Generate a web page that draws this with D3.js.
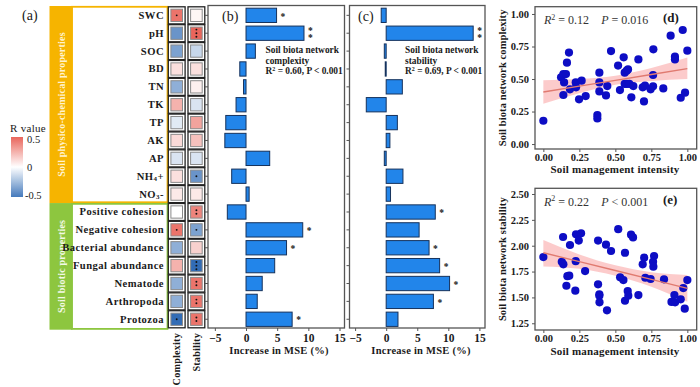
<!DOCTYPE html>
<html><head><meta charset="utf-8">
<script src="https://cdn.jsdelivr.net/npm/d3@7"></script>
<style>
body{margin:0;background:#fff;}
svg{display:block;}
text{font-family:"Liberation Serif","Times New Roman",serif;}
</style>
</head><body>
<svg id="chart" width="700" height="387"></svg>
<script>
// ---------------- DATA ----------------
const variables = ["SWC","pH","SOC","BD","TN","TK","TP","AK","AP","NH4+","NO3-",
  "Positive cohesion","Negative cohesion","Bacterial abundance","Fungal abundance","Nematode","Arthropoda","Protozoa"];
const groups = [
  {name:"Soil physico-chemical properties", from:0, to:10},
  {name:"Soil biotic properties", from:11, to:17}
];
const rComplexity = [0.45,-0.40,-0.35,0.10,-0.30,0.25,-0.08,0.12,-0.10,0.10,0.07,0.00,0.45,-0.30,0.25,-0.30,-0.30,-0.55];
const rStability  = [0.03,0.50,-0.15,0.10,0.05,-0.10,0.30,0.20,-0.10,-0.40,0.07,0.40,-0.35,0.15,-0.55,0.45,0.45,0.45];
const dotsComplexity = [1,0,0,0,0,0,0,0,0,0,0,0,1,0,0,0,0,1];
const dotsStability  = [0,3,0,0,0,0,0,0,0,1,0,2,1,0,3,2,2,2];
const legendTicks = [0.5, 0, -0.5];

const mseComplexity = [4.9,9.3,1.5,-1.0,-0.4,-1.6,-3.25,-3.4,3.8,-2.3,0.5,-3.0,9.1,6.5,4.6,2.6,1.8,7.4];
const mseStability  = [-0.8,14.0,-0.3,-0.15,2.6,-3.2,1.8,0.6,-0.3,2.7,0.7,7.9,5.3,6.9,8.6,10.2,7.6,1.9];
const starsComplexity = [1,2,0,0,0,0,0,0,0,0,0,0,1,1,0,0,0,1];
const starsStability  = [0,2,0,0,0,0,0,0,0,0,0,1,0,1,1,1,1,0];
const mseTicks = [-5,0,5,10,15];

const dX = [0.00,0.123,0.139,0.144,0.139,0.157,0.164,0.178,0.185,0.225,0.227,0.248,0.266,0.294,
  0.375,0.375,0.389,0.389,0.389,0.435,0.444,0.470,0.519,0.532,0.558,0.565,0.579,0.588,0.565,0.579,0.597,
  0.611,0.625,0.660,0.690,0.706,0.699,0.745,0.762,0.764,0.762,0.833,0.884,0.914,0.914,0.954,0.968,0.984,1.000];
const dY = [0.179,0.513,0.538,0.474,0.377,0.538,0.626,0.703,0.421,0.474,0.436,0.344,0.487,0.369,
  0.223,0.197,0.549,0.474,0.405,0.374,0.446,0.715,0.603,0.415,0.667,0.549,0.564,0.574,0.462,0.462,0.462,
  0.359,0.446,0.651,0.436,0.449,0.328,0.421,0.444,0.728,0.531,0.428,0.833,0.672,0.651,0.356,0.877,0.395,0.718];

const eX = [0.000,0.128,0.139,0.137,0.185,0.227,0.262,0.246,0.225,0.290,0.167,0.180,0.160,0.222,
  0.380,0.380,0.389,0.389,0.390,0.442,0.435,0.470,0.520,0.533,0.556,0.567,0.567,0.586,0.590,0.609,0.623,
  0.660,0.700,0.690,0.708,0.745,0.769,0.762,0.764,0.838,0.890,0.915,0.910,0.954,0.972,0.982,1.000];
const eY = [1.890,1.845,1.820,2.084,2.007,2.110,2.120,2.050,1.850,1.755,1.705,1.710,1.613,1.565,
  2.050,1.627,1.530,1.515,1.453,1.375,2.010,1.949,2.160,1.694,1.668,1.932,1.468,1.562,1.517,2.107,2.080,
  1.523,1.884,1.820,1.690,1.678,1.900,1.845,1.797,1.675,1.456,1.453,1.523,1.482,1.590,1.391,1.668];

const fitX = [0, 0.25, 0.5, 0.75, 1];
const fitD = [0.400, 0.445, 0.490, 0.535, 0.580];
const bandLowD  = [0.310, 0.390, 0.455, 0.485, 0.500];
const bandHighD = [0.490, 0.500, 0.525, 0.585, 0.665];
const fitE = [1.932, 1.846, 1.760, 1.674, 1.588];
const bandLowE  = [1.800, 1.776, 1.710, 1.604, 1.458];
const bandHighE = [2.055, 1.916, 1.810, 1.744, 1.717];
const ticksD = [0, 0.25, 0.5, 0.75, 1];
const ticksE = [1.25, 1.5, 1.75, 2, 2.25, 2.5];
const ticksX = [0, 0.25, 0.5, 0.75, 1];

// ---------------- DRAW ----------------
const svg = d3.select("#chart");
svg.append("rect").attr("width",700).attr("height",387).attr("fill","#fff");
const ORANGE = "#F6B400", GREEN = "#8DC63F", FRAME = "#555", INK = "#1a1a1a";

const yRow = d3.scaleBand().domain(d3.range(variables.length)).range([6.4, 328.2]);
const yBar = d3.scaleBand().domain(d3.range(variables.length)).range([6.4, 328.2]).paddingInner(0.2).paddingOuter(0.1);

// panel labels
[["(a)",22,20],["(b)",222,21],["(c)",358,21]].forEach(([t,x,y])=>{
  svg.append("text").attr("x",x).attr("y",y).attr("font-size",14).attr("fill",INK).text(t);
});

// group bands
groups.forEach((g,gi)=>{
  const col = gi===0 ? ORANGE : GREEN;
  const y0 = gi===0 ? 6 : yRow(g.from);
  const y1 = yRow(g.to) + yRow.bandwidth() + (gi===0 ? 0 : 1.5);
  svg.append("rect").attr("x",49.5).attr("y",y0).attr("width",23).attr("height",y1-y0).attr("fill",col);
  svg.append("rect").attr("x",72).attr("y",y0+0.8).attr("width",95.5).attr("height",y1-y0-1.6)
    .attr("fill","none").attr("stroke",col).attr("stroke-width",1.8);
  svg.append("text").attr("transform",`translate(61.5,${(y0+y1)/2}) rotate(-90)`)
    .attr("text-anchor","middle").attr("dominant-baseline","central")
    .attr("font-size",10).attr("font-weight","bold").attr("fill", gi===0?"#FFF3D0":"#F2F9E6")
    .attr("letter-spacing",0.2).text(g.name);
});

// row labels
function labelText(sel, name){
  const m = name.match(/^(NH|NO)(\d)([+-])$/);
  if(m){
    sel.append("tspan").text(m[1]);
    sel.append("tspan").attr("font-size",7).attr("dy",2.5).text(m[2]);
    sel.append("tspan").attr("dy",-2.5).text(m[3]);
  } else sel.text(name);
}
variables.forEach((v,i)=>{
  const t = svg.append("text").attr("x",164).attr("y",yRow(i)+yRow.bandwidth()/2)
    .attr("text-anchor","end").attr("dominant-baseline","central")
    .attr("font-size",10.6).attr("font-weight","bold").attr("fill",INK).attr("letter-spacing",0.45);
  labelText(t, v);
});

// heatmap
const color = d3.scaleLinear().domain([-0.6,0,0.6]).range(["#1f5fae","#ffffff","#e4463a"]).clamp(true);
const cols = [{x:168.3, w:16.8, r:rComplexity, d:dotsComplexity, name:"Complexity"},
              {x:188.0, w:16.8, r:rStability, d:dotsStability, name:"Stability"}];
cols.forEach(c=>{
  const g = svg.append("g");
  c.r.forEach((val,i)=>{
    const y = yRow(i), h = yRow.bandwidth();
    g.append("rect").attr("x",c.x).attr("y",y+0.4).attr("width",c.w).attr("height",h-0.8)
      .attr("fill","#fff").attr("stroke","#222").attr("stroke-width",1.3);
    g.append("rect").attr("x",c.x+2.6).attr("y",y+2.8).attr("width",c.w-5.2).attr("height",h-5.6)
      .attr("fill",color(val)).attr("stroke","#8a8a8a").attr("stroke-width",1);
    const n = c.d[i];
    for(let k=0;k<n;k++){
      g.append("circle").attr("cx",c.x+c.w/2).attr("cy",y+h/2+(k-(n-1)/2)*3.6).attr("r",0.95).attr("fill","#111");
    }
  });
  svg.append("text").attr("transform",`translate(${c.x+c.w/2},333) rotate(-90)`)
    .attr("text-anchor","end").attr("dominant-baseline","central")
    .attr("font-size",10.2).attr("font-weight","bold").attr("fill",INK).attr("letter-spacing",0.2).text(c.name);
});

// legend
svg.append("text").attr("x",10).attr("y",131.5).attr("font-size",11).attr("fill",INK).attr("letter-spacing",0.3).text("R value");
const defs = svg.append("defs");
const grad = defs.append("linearGradient").attr("id","rgrad").attr("x1",0).attr("y1",1).attr("x2",0).attr("y2",0);
d3.range(0,1.0001,0.1).forEach(t=>{
  grad.append("stop").attr("offset",t).attr("stop-color",color(-0.5+t));
});
const legY = d3.scaleLinear().domain([-0.5,0.5]).range([195,139]);
svg.append("rect").attr("x",11).attr("y",legY(0.5)-2).attr("width",12).attr("height",legY(-0.5)-legY(0.5)+4).attr("fill","url(#rgrad)");
legendTicks.forEach(t=>{
  svg.append("text").attr("x",t<0?25:27).attr("y",legY(t)).attr("dominant-baseline","central")
    .attr("font-size",10.5).attr("fill",INK).text(t===0?"0":(t>0?"0.5":"-0.5"));
});

// bar panels
function barPanel(opts){
  const {x0,x1,domain,values,stars,centerX,annot,ax} = opts;
  const x = d3.scaleLinear().domain(domain).range([x0,x1]);
  const g = svg.append("g");
  g.append("rect").attr("x",x0).attr("y",5.5).attr("width",x1-x0).attr("height",328-5.5)
    .attr("fill","none").attr("stroke",FRAME).attr("stroke-width",1.3);
  values.forEach((v,i)=>{
    g.append("rect").attr("x",x(Math.min(0,v))).attr("y",yBar(i))
      .attr("width",Math.abs(x(v)-x(0))).attr("height",yBar.bandwidth())
      .attr("fill","#2285EA").attr("stroke","#16325c").attr("stroke-width",1);
    const n = stars[i];
    if(n>0){
      const st = g.append("text").attr("font-size",9.5).attr("font-weight","bold").attr("fill",INK);
      for(let k=0;k<n;k++){
        st.append("tspan").attr("x",x(Math.max(0,v))+4)
          .attr("y",yBar(i)+yBar.bandwidth()/2+(k-(n-1)/2)*6.4+4.2).text("*");
      }
    }
  });
  const yA = g.append("g").attr("transform",`translate(${x0},0)`)
    .call(d3.axisLeft(yRow).tickSize(3).tickFormat(""));
  yA.select(".domain").remove();
  yA.selectAll("line").attr("stroke",FRAME);
  const xA = g.append("g").attr("transform","translate(0,328)")
    .call(d3.axisBottom(x).tickValues(mseTicks).tickSize(3).tickPadding(2.5).tickFormat(d3.format("d")));
  xA.select(".domain").remove();
  xA.selectAll("line").attr("stroke",FRAME);
  xA.selectAll("text").attr("font-family",'"Liberation Serif",serif').attr("font-size",11.5)
    .attr("font-weight","bold").attr("fill",INK).attr("dy","0.75em");
  g.append("text").attr("x",centerX).attr("y",354).attr("text-anchor","middle")
    .attr("font-size",10.5).attr("font-weight","bold").attr("fill",INK).attr("letter-spacing",0.25)
    .text("Increase in MSE (%)");
  const at = g.append("text").attr("font-size",9.4).attr("font-weight","bold").attr("fill",INK);
  annot.forEach((line,k)=>{
    const ts = at.append("tspan").attr("x",ax).attr("y",52.8+k*10.7);
    if(k===2){
      ts.append("tspan").text("R");
      ts.append("tspan").attr("font-size",6).attr("dy",-3).text("2");
      ts.append("tspan").attr("dy",3).text(line);
    } else ts.text(line);
  });
}
barPanel({x0:208,x1:344.5,domain:[-6.1,15.8],values:mseComplexity,stars:starsComplexity,centerX:279,
  annot:["Soil biota network","complexity"," = 0.60, P < 0.001"],ax:265.5});
barPanel({x0:349.5,x1:485,domain:[-5.9,15.9],values:mseStability,stars:starsStability,centerX:421,
  annot:["Soil biota network","stability"," = 0.69, P < 0.001"],ax:405});

// scatter panels
function scatter(opts){
  const {top,bottom,yDomain,xs,ys,fit,lo,hi,yTicks,ytitle,r2,pText,tag,pad,titleY} = opts;
  const x = d3.scaleLinear().domain([-0.058,1.065]).range([535,696.7]);
  const y = d3.scaleLinear().domain(yDomain).range([bottom,top]);
  const g = svg.append("g");
  g.append("rect").attr("x",535).attr("y",top).attr("width",696.7-535).attr("height",bottom-top)
    .attr("fill","#fff").attr("stroke",FRAME).attr("stroke-width",1.3);
  const band = d3.area().x((d,i)=>x(fitX[i])).y0((d,i)=>y(lo[i])).y1((d,i)=>y(hi[i])).curve(d3.curveMonotoneX);
  g.append("path").datum(fitX).attr("d",band).attr("fill","#FBB9B9").attr("opacity",0.75);
  g.selectAll("circle").data(xs).join("circle")
    .attr("cx",d=>x(d)).attr("cy",(d,i)=>y(ys[i])).attr("r",4.1).attr("fill","#0d0dc4");
  const line = d3.line().x((d,i)=>x(fitX[i])).y((d,i)=>y(fit[i]));
  g.append("path").datum(fitX).attr("d",line).attr("fill","none").attr("stroke","#E07a70").attr("stroke-width",1.4);
  const yA = g.append("g").attr("transform","translate(535,0)")
    .call(d3.axisLeft(y).tickValues(yTicks).tickSize(3).tickFormat(d3.format(".2f")));
  yA.select(".domain").remove();
  yA.selectAll("line").attr("stroke",FRAME);
  yA.selectAll("text").attr("font-family",'"Liberation Serif",serif').attr("font-size",10.5)
    .attr("font-weight","bold").attr("fill",INK);
  const xA = g.append("g").attr("transform",`translate(0,${bottom})`)
    .call(d3.axisBottom(x).tickValues(ticksX).tickSize(3).tickPadding(pad).tickFormat(d3.format(".2f")));
  xA.select(".domain").remove();
  xA.selectAll("line").attr("stroke",FRAME);
  xA.selectAll("text").attr("font-family",'"Liberation Serif",serif').attr("font-size",10.5)
    .attr("font-weight","bold").attr("fill",INK);
  g.append("text").attr("x",615).attr("y",titleY).attr("text-anchor","middle")
    .attr("font-size",11).attr("font-weight","bold").attr("fill",INK).attr("letter-spacing",0.2)
    .text("Soil management intensity");
  g.append("text").attr("transform",`translate(502,${(top+bottom)/2}) rotate(-90)`)
    .attr("text-anchor","middle").attr("dominant-baseline","central")
    .attr("font-size",10.5).attr("font-weight","bold").attr("fill",INK).attr("letter-spacing",0.1).text(ytitle);
  const t = g.append("text").attr("x",544).attr("y",top+17.5).attr("font-size",12).attr("fill","#333");
  t.append("tspan").attr("font-style","italic").text("R");
  t.append("tspan").attr("font-size",8).attr("dy",-4.5).text("2");
  t.append("tspan").attr("dy",4.5).text(" = " + r2);
  t.append("tspan").attr("dx",12).attr("font-style","italic").text("P");
  t.append("tspan").text(" " + pText);
  g.append("text").attr("x",663).attr("y",top+15.5).attr("font-size",13).attr("font-weight","bold").attr("fill",INK).text(tag);
}
scatter({top:6.7,bottom:149,yDomain:[-0.038,1.056],xs:dX,ys:dY,fit:fitD,lo:bandLowD,hi:bandHighD,
  yTicks:ticksD,ytitle:"Soil biota network complexity",r2:"0.12",pText:"= 0.016",tag:"(d)",pad:1.5,titleY:172.5});
scatter({top:188.3,bottom:330,yDomain:[1.185,2.555],xs:eX,ys:eY,fit:fitE,lo:bandLowE,hi:bandHighE,
  yTicks:ticksE,ytitle:"Soil biota network stability",r2:"0.22",pText:"< 0.001",tag:"(e)",pad:1.5,titleY:354.5});
</script>
</body></html>
